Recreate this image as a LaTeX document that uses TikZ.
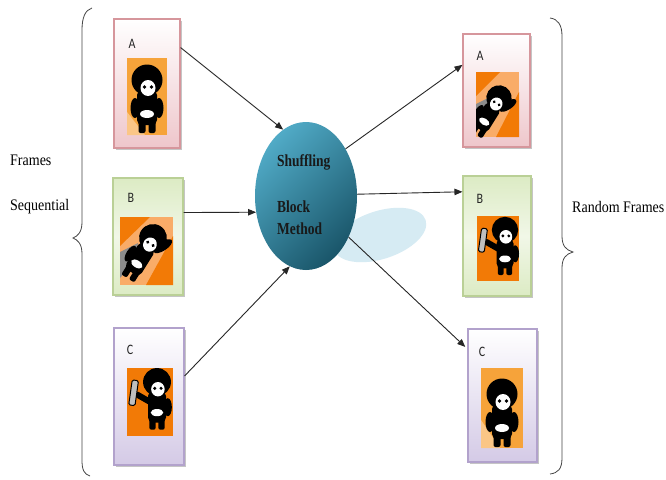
\documentclass[tikz,border=0pt]{standalone}
\usepackage{fontspec}
\setmainfont{Liberation Serif}
\newfontfamily\lettfont{Carlito}
\usetikzlibrary{arrows.meta,shapes.geometric,shadows}

\definecolor{pinkedge}{RGB}{214,150,156}
\definecolor{pinkfill}{RGB}{238,198,203}
\definecolor{greenedge}{RGB}{186,208,150}
\definecolor{greenfill}{RGB}{220,235,196}
\definecolor{lavedge}{RGB}{178,162,204}
\definecolor{lavfill}{RGB}{212,202,230}
\definecolor{ballhi}{RGB}{80,170,198}
\definecolor{balllo}{RGB}{26,86,106}
\definecolor{halo}{RGB}{214,235,243}
\definecolor{orangeA}{RGB}{246,163,58}
\definecolor{orangeL}{RGB}{251,198,134}
\definecolor{orangeD}{RGB}{242,122,6}
\definecolor{orangeM}{RGB}{249,172,104}
\definecolor{bracegray}{RGB}{70,70,70}

% the little black figure, origin at the centre of its head
\newcommand\kidbody{%
  \fill[black, rounded corners=2pt] (-8.5,38) rectangle (-1.5,53);
  \fill[black, rounded corners=2pt] (1.5,38) rectangle (8.5,53);
  \fill[black, rounded corners=5pt] (-10,10) rectangle (10,45);
  \fill[black] (0,0) circle (15.5);
  \fill[white] (1,8) ellipse (7.5 and 8);
  \fill[black] (-2.5,7) circle (1.9);
  \fill[black] (4.5,7) circle (1.9);
  \fill[white] (0,34) ellipse (7 and 4);
}
\newcommand\kidstand{%
  \fill[black] (-12,28) ellipse (4.5 and 10);
  \fill[black] (12,28) ellipse (4.5 and 10);
  \kidbody
}
% one arm raised
\newcommand\kidwave{%
  \fill[black] (-12,28) ellipse (4.5 and 10);
  \fill[black, rotate around={-25:(14,2)}] (14,2) ellipse (5 and 12);
  \kidbody
}
% holding a phone up on its left
\newcommand\kidphone{%
  \draw[black, line width=6pt, line cap=round] (-8,22) -- (-22,14);
  \filldraw[fill=black!25, draw=black, line width=1pt, rounded corners=1.5pt,
    rotate around={-8:(-26,12)}] (-29.5,-2) rectangle (-22.5,26);
  \fill[black] (12,28) ellipse (4.5 and 10);
  \kidbody
}

\tikzset{
  frame/.style={line width=1.1pt, inner sep=0pt,
    drop shadow={shadow xshift=2.2pt, shadow yshift=-2.2pt, fill=black!45, opacity=.5}},
  pinkbox/.style={frame, draw=pinkedge, top color=white, bottom color=pinkfill},
  greenbox/.style={frame, draw=greenedge, top color=greenfill, bottom color=greenfill, middle color=white!60!greenfill},
  lavbox/.style={frame, draw=lavedge, top color=white, bottom color=lavfill},
  conn/.style={draw=black!85, line width=0.9pt, -{Triangle[length=8pt,width=6.5pt]}},
  bracepath/.style={draw=bracegray, line width=0.8pt},
  lbl/.style={font=\fontsize{14}{16}\selectfont, inner sep=0pt, yscale=1.15},
  balltxt/.style={font=\bfseries\fontsize{13.5}{16}\selectfont, inner sep=0pt, yscale=1.25, text=black!90},
  lett/.style={font=\lettfont\fontsize{12}{14}\selectfont, inner sep=0pt, yscale=1.2, text=black!85}
}

\begin{document}
\begin{tikzpicture}[x=1pt,y=-1pt]
\useasboundingbox (0,0) rectangle (666,479);
\fill[white] (0,0) rectangle (666,479);

% ---- frame cards, left column
\node[pinkbox,  minimum width=66pt, minimum height=129pt] (la) at (147,83.5) {};
\node[greenbox, minimum width=70pt, minimum height=117pt] (lb) at (148,236.5) {};
\node[lavbox,   minimum width=70pt, minimum height=137pt] (lc) at (149,396.5) {};

% ---- frame cards, right column
\node[pinkbox,  minimum width=67pt, minimum height=113pt] (ra) at (496.5,90.5) {};
\node[greenbox, minimum width=68pt, minimum height=120pt] (rb) at (497,236) {};
\node[lavbox,   minimum width=69pt, minimum height=133pt] (rc) at (502.5,395.5) {};

% ---- card letters
\node[lett] (lA) at (132,44) {A};
\node[lett] (lB) at (131,198) {B};
\node[lett] (lC) at (130,350) {C};
\node[lett] (rA) at (480,56) {A};
\node[lett] (rB) at (480,199) {B};
\node[lett] (rC) at (482,352) {C};

% ---- pictures on the cards
\begin{scope}
  \clip (127,58) rectangle (167,135);
  \fill[orangeA] (127,58) rectangle (167,135);
  \fill[orangeL] (127,112) -- (127,135) -- (145,135) -- cycle;
  \begin{scope}[shift={(147,80)}] \kidstand \end{scope}
\end{scope}

\begin{scope}
  \clip (120,217) rectangle (173,285);
  \fill[orangeM] (120,217) rectangle (173,285);
  \fill[orangeD] (120,217) -- (150,217) -- (120,246) -- cycle;
  \fill[orangeD] (173,236) -- (173,285) -- (146,285) -- cycle;
  \fill[black!45] (120,252) -- (138,243) -- (134,262) -- (120,278) -- cycle;
  \begin{scope}[shift={(153,238)}, rotate=-32, scale=0.9] \kidwave \end{scope}
\end{scope}

\begin{scope}
  \clip (127,368) rectangle (173,436);
  \fill[orangeD] (127,368) rectangle (173,436);
  \begin{scope}[shift={(157,382)}, scale=0.9] \kidphone \end{scope}
\end{scope}

\begin{scope}
  \clip (476,72) rectangle (519,137);
  \fill[orangeM] (476,72) rectangle (519,137);
  \fill[orangeD] (476,72) -- (500,72) -- (476,96) -- cycle;
  \fill[orangeD] (519,92) -- (519,137) -- (496,137) -- cycle;
  \fill[black!45] (476,104) -- (492,96) -- (488,114) -- (476,128) -- cycle;
  \begin{scope}[shift={(499,98)}, rotate=-32, scale=0.82] \kidwave \end{scope}
\end{scope}

\begin{scope}
  \clip (477,216) rectangle (519,281);
  \fill[orangeD] (477,216) rectangle (519,281);
  \begin{scope}[shift={(505,230)}, scale=0.85] \kidphone \end{scope}
\end{scope}

\begin{scope}
  \clip (481,368) rectangle (523,448);
  \fill[orangeA] (481,368) rectangle (523,448);
  \fill[orangeL] (481,420) -- (481,448) -- (500,448) -- cycle;
  \begin{scope}[shift={(502,394)}] \kidstand \end{scope}
\end{scope}

% ---- the shuffling unit
\fill[halo, rotate around={18:(380,235)}] (380,235) ellipse (48 and 24);
\node[ellipse, inner sep=0pt, minimum width=102pt, minimum height=148pt,
      top color=ballhi, bottom color=balllo, shading angle=45] (sh) at (306,196) {};
\node[balltxt, anchor=west] (t1) at (277,162) {Shuffling};
\node[balltxt, anchor=west] (t2) at (277,207) {Block};
\node[balltxt, anchor=west] (t3) at (277,229) {Method};

% ---- connectors
\draw[conn] (la.47) -- (sh.109);
\draw[conn] (lb.34) -- (sh.198);
\draw[conn] (lc.30) -- (sh.257);
\draw[conn] (sh.50) -- (ra.143);
\draw[conn] (sh.2) -- (rb.128);
\draw[conn, shorten >=3pt] (sh.-44) -- (rc.127);

% ---- braces
\draw[bracepath] (92,8) .. controls (85,10) and (82,18) .. (82,30) -- (82,222)
  .. controls (82,232) and (78,236) .. (73,238)
  .. controls (78,240) and (82,244) .. (82,254) -- (82,460)
  .. controls (82,470) and (84,474) .. (90,476);
\draw[bracepath] (550,18) .. controls (558,19) and (562,25) .. (562,36) -- (562,236)
  .. controls (562,246) and (566,250) .. (573,252)
  .. controls (566,254) and (562,258) .. (562,268) -- (562,458)
  .. controls (562,469) and (558,473) .. (550,474);

% ---- side labels
\node[lbl, anchor=west] (fr) at (10,160) {Frames};
\node[lbl, anchor=west] (sq) at (10,207) {Sequential};
\node[lbl, anchor=west] (rf) at (572,207) {Random Frames};
\end{tikzpicture}
\end{document}
